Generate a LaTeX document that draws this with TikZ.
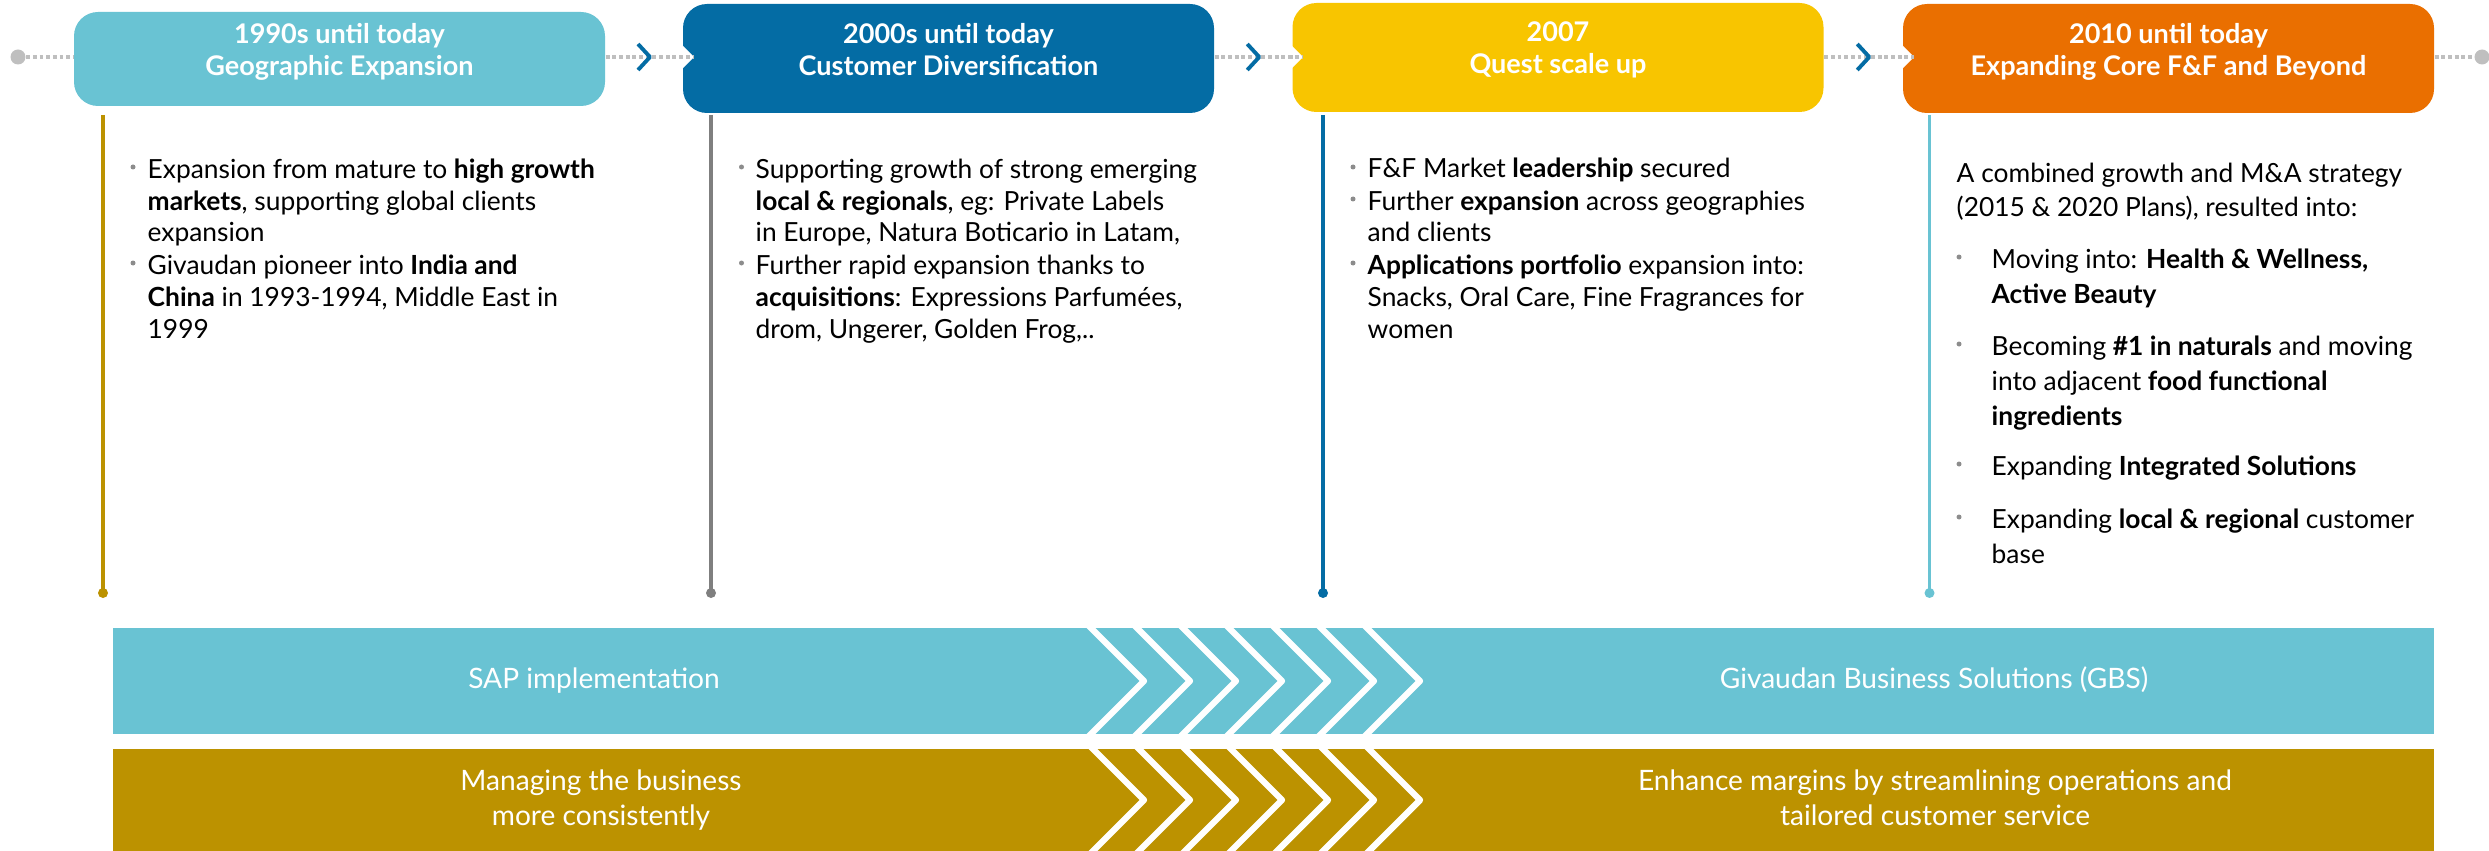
\documentclass[tikz,border=0pt]{standalone}
\usepackage{fontspec}
\setmainfont{Lato}
\definecolor{cteal}{HTML}{69C3D3}
\definecolor{cblue}{HTML}{046CA4}
\definecolor{cyellow}{HTML}{F8C500}
\definecolor{corange}{HTML}{EA6F00}
\definecolor{cgold}{HTML}{BC9200}
\definecolor{cgray}{HTML}{7F7F7F}
\definecolor{cdots}{HTML}{BFBFBF}
\definecolor{cbullet}{HTML}{8C8C8C}
\begin{document}
\begin{tikzpicture}[x=0.1mm, y=-0.1mm,
  hdr/.style={rounded corners=0.24cm, minimum width=5.31cm, inner sep=0pt},
  htxt/.style={anchor=base, align=center, text=white, inner sep=0pt, font=\fontsize{7.7}{9.2}\selectfont\bfseries},
  tline/.style={cdots, line width=1.1pt, dash pattern=on 1.1pt off 0.8pt},
  tdot/.style={circle, fill=cdots, minimum size=0.15cm, inner sep=0pt},
  chev/.style={cblue, line width=1.1pt, line join=round},
  vline/.style={line width=1pt},
  vdot/.style={circle, minimum size=0.1cm, inner sep=0pt},
  body/.style={anchor=base west, align=left, inner sep=0pt, font=\fontsize{7.5}{9.1}\selectfont},
  body4/.style={body, font=\fontsize{7.5}{9.92}\selectfont},
  btxt/.style={anchor=base, align=center, text=white, inner sep=0pt, font=\fontsize{8}{9.9}\selectfont},
  stripe/.style={white, line width=1.8pt, line join=round}]

\useasboundingbox (0,0) rectangle (2489,851);

\node[hdr, fill=cteal, minimum height=0.94cm] (b1) at (339.5,59) {};
\node[hdr, fill=cblue, minimum height=1.09cm] (b2) at (948.5,58.5) {};
\node[hdr, fill=cyellow, minimum height=1.09cm] (b3) at (1558,57.5) {};
\node[hdr, fill=corange, minimum height=1.09cm] (b4) at (2168.5,58.5) {};

\fill[white] (682,45) -- (694,57) -- (682,69) -- cycle;
\fill[white] (1291,45) -- (1303,57) -- (1291,69) -- cycle;
\fill[white] (1902,45) -- (1914,57) -- (1902,69) -- cycle;
\coordinate (n2) at (694,57);
\coordinate (n3) at (1303,57);
\coordinate (n4) at (1914,57);

% base of a multi-line node sits on its last line
\node[htxt] (t1) at (339.5,75.5) {1990s until today\\Geographic Expansion};
\node[htxt] (t2) at (948.5,75.5) {2000s until today\\Customer Diversification};
\node[htxt] (t3) at (1558,73.5) {2007\\Quest scale up};
\node[htxt] (t4) at (2168.5,75.5) {2010 until today\\Expanding Core F\&F and Beyond};

\node[tdot] (dl) at (18,57) {};
\node[tdot] (dr) at (2482,57) {};
\draw[tline] (dl) -- (dl -| b1.west);
\draw[tline] (dl -| b1.east) -- coordinate (m1) (dl -| b2.west) -- (n2);
\draw[tline] (dl -| b2.east) -- coordinate (m2) (dl -| b3.west) -- (n3);
\draw[tline] (dl -| b3.east) -- coordinate (m3) (dl -| b4.west) -- (n4);
\draw[tline] (dl -| b4.east) -- (dr);
\draw[chev] (m1) ++(-6,-13) -- ++(12,13) -- ++(-12,13);
\draw[chev] (m2) ++(-6,-13) -- ++(12,13) -- ++(-12,13);
\draw[chev] (m3) ++(-6,-13) -- ++(12,13) -- ++(-12,13);

\coordinate (s1) at (103,115);
\coordinate (s2) at (711,115);
\coordinate (s3) at (1323,115);
\coordinate (s4) at (1929.5,115);
\node[vdot, fill=cgold] (e1) at (103,593) {};
\node[vdot, fill=cgray] (e2) at (711,593) {};
\node[vdot, fill=cblue] (e3) at (1323,593) {};
\node[vdot, fill=cteal] (e4) at (1929.5,593) {};
\draw[vline, cgold] (s1) -- (e1.center);
\draw[vline, cgray] (s2) -- (e2.center);
\draw[vline, cblue] (s3) -- (e3.center);
\draw[vline, cteal] (s4) -- (e4.center);

\fill[cbullet] (133,167) circle (0.25mm);
\fill[cbullet] (133,263) circle (0.25mm);
\node[body] (c1a) at (147,242) {Expansion from mature to \textbf{high growth}\\\textbf{markets}, supporting global clients\\expansion};
\node[body] (c1b) at (147,338) {Givaudan pioneer into \textbf{India and}\\\textbf{China} in 1993-1994, Middle East in\\1999};

\fill[cbullet] (741.5,167) circle (0.25mm);
\fill[cbullet] (741.5,263) circle (0.25mm);
\node[body] (c2a) at (755,242) {Supporting growth of strong emerging\\\textbf{local \& regionals}, eg: Private Labels\\in Europe, Natura Boticario in Latam,};
\node[body] (c2b) at (755,338) {Further rapid expansion thanks to\\\textbf{acquisitions}: Expressions Parfumées,\\drom, Ungerer, Golden Frog,..};

\fill[cbullet] (1353,167) circle (0.25mm);
\fill[cbullet] (1353,199) circle (0.25mm);
\fill[cbullet] (1353,263) circle (0.25mm);
\node[body] (c3a) at (1367,178) {F\&F Market \textbf{leadership} secured};
\node[body] (c3b) at (1367,242) {Further \textbf{expansion} across geographies\\and clients};
\node[body] (c3c) at (1367,338) {\textbf{Applications portfolio} expansion into:\\Snacks, Oral Care, Fine Fragrances for\\women};

\node[body4] (c4) at (1956,217) {A combined growth and M\&A strategy\\(2015 \& 2020 Plans), resulted into:};
\fill[cbullet] (1959,257) circle (0.25mm);
\fill[cbullet] (1959,344) circle (0.25mm);
\fill[cbullet] (1959,464) circle (0.25mm);
\fill[cbullet] (1959,517) circle (0.25mm);
\node[body4] (c4a) at (1991,303) {Moving into: \textbf{Health \& Wellness,}\\\textbf{Active Beauty}};
\node[body4] (c4b) at (1991,425) {Becoming \textbf{\#1 in naturals} and moving\\into adjacent \textbf{food functional}\\\textbf{ingredients}};
\node[body4] (c4c) at (1991,475) {Expanding \textbf{Integrated Solutions}};
\node[body4] (c4d) at (1991,563) {Expanding \textbf{local \& regional} customer\\base};

\fill[cteal] (113,628) rectangle (2434,734);
\fill[cgold] (113,749) rectangle (2434,851);
\foreach \x in {1144,1190,...,1420} {
  \draw[stripe] (\x-58,623) -- (\x,681) -- (\x-58,739);
  \draw[stripe] (\x-56,744) -- (\x,800) -- (\x-56,856);
}
\node[btxt] (sap) at (594,688) {SAP implementation};
\node[btxt] (gbs) at (1934,688) {Givaudan Business Solutions (GBS)};
\node[btxt] (mng) at (601,825) {Managing the business\\more consistently};
\node[btxt] (enh) at (1935,825) {Enhance margins by streamlining operations and\\tailored customer service};
\end{tikzpicture}
\end{document}
